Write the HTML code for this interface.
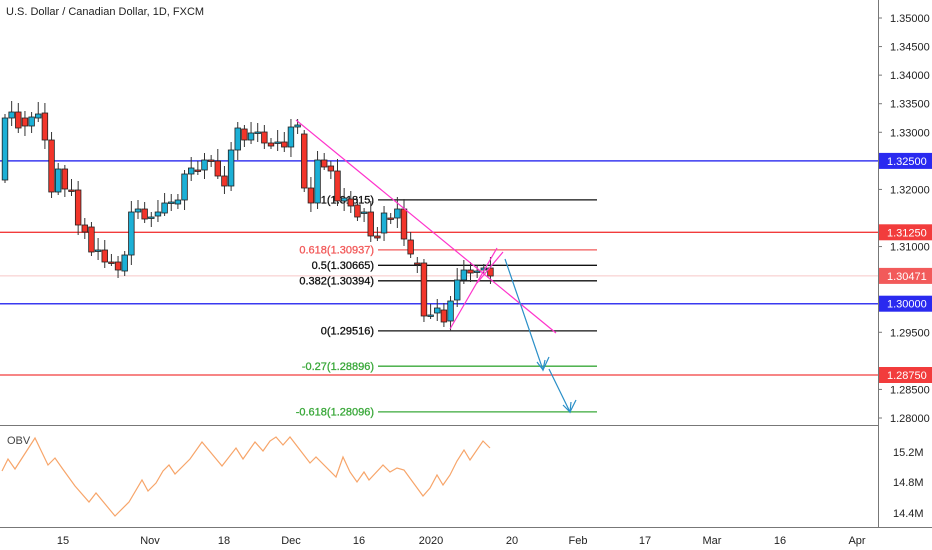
<!DOCTYPE html>
<html><head><meta charset="utf-8"><style>
html,body{margin:0;padding:0;background:#fff;}
svg{display:block;font-family:"Liberation Sans",sans-serif;}
</style></head><body>
<svg id="s" width="932" height="550" viewBox="0 0 932 550" xmlns="http://www.w3.org/2000/svg">
<rect width="932" height="550" fill="#fff"/>
<line x1="0" x2="878" y1="160.9" y2="160.9" stroke="#3a3af0" stroke-width="1.5"/>
<line x1="0" x2="878" y1="303.7" y2="303.7" stroke="#3a3af0" stroke-width="1.5"/>
<line x1="0" x2="878" y1="232.3" y2="232.3" stroke="#f23c3c" stroke-width="1.3"/>
<line x1="0" x2="878" y1="375" y2="375" stroke="#f23c3c" stroke-width="1.3"/>
<line x1="0" x2="878" y1="275.9" y2="275.9" stroke="#f7c6c6" stroke-width="1"/>
<g stroke-width="1.3">
<line x1="378" x2="597" y1="199.9" y2="199.9" stroke="#111"/>
<line x1="378" x2="597" y1="249.9" y2="249.9" stroke="#f25a5a"/>
<line x1="378" x2="597" y1="265.3" y2="265.3" stroke="#111"/>
<line x1="378" x2="597" y1="280.8" y2="280.8" stroke="#111"/>
<line x1="378" x2="597" y1="330.9" y2="330.9" stroke="#111"/>
<line x1="378" x2="597" y1="366.2" y2="366.2" stroke="#3aa83a"/>
<line x1="378" x2="597" y1="411.9" y2="411.9" stroke="#3aa83a"/>
</g>
<g font-size="11" text-anchor="end" stroke-width="0.3">
<text x="374" y="203.5" fill="#111" stroke="#111">1(1.31815)</text>
<text x="374" y="253.5" fill="#f25a5a" stroke="#f25a5a">0.618(1.30937)</text>
<text x="374" y="269" fill="#111" stroke="#111">0.5(1.30665)</text>
<text x="374" y="284.5" fill="#111" stroke="#111">0.382(1.30394)</text>
<text x="374" y="334.5" fill="#111" stroke="#111">0(1.29516)</text>
<text x="374" y="370" fill="#3aa83a" stroke="#3aa83a">-0.27(1.28896)</text>
<text x="374" y="415.5" fill="#3aa83a" stroke="#3aa83a">-0.618(1.28096)</text>
</g>
<g id="candles"></g>
<line x1="296" y1="120" x2="556" y2="333" stroke="#ff33cc" stroke-width="1.2"/>
<line x1="450" y1="329" x2="497" y2="248" stroke="#ff33cc" stroke-width="1.2"/>
<line x1="477" y1="283" x2="503" y2="252" stroke="#ff33cc" stroke-width="1.2"/>
<polyline points="505,259 543,370 549,357" fill="none" stroke="#2a8fc8" stroke-width="1.2"/>
<polyline points="537,362 543,370 545,360" fill="none" stroke="#2a8fc8" stroke-width="1.2"/>
<polyline points="549,369 570,412 576,400" fill="none" stroke="#2a8fc8" stroke-width="1.2"/>
<polyline points="563,405 570,412 571,402" fill="none" stroke="#2a8fc8" stroke-width="1.2"/>
<line x1="0" x2="878" y1="425.5" y2="425.5" stroke="#777" stroke-width="1"/>
<line x1="878.5" x2="878.5" y1="0" y2="527" stroke="#777"/>
<line x1="0" x2="932" y1="527.5" y2="527.5" stroke="#777"/>
<text x="6" y="15" font-size="11" fill="#222">U.S. Dollar / Canadian Dollar, 1D, FXCM</text>
<text x="7" y="444" font-size="11" fill="#444">OBV</text>
<polyline fill="none" stroke="#f7a56a" stroke-width="1.2" points="2,471 8,459 15,469 35,438 48,465 55,458 62,468 75,486 89,502 96,493 115,516 129,502 142,480 148,491 156,483 163,471 169,465 175,474 190,459 202,442 222,466 236,448 243,459 255,442 263,451 270,441 276,437 283,445 290,437 310,463 316,457 336,477 343,457 350,472 357,482 364,472 369,480 383,465 390,472 397,468 404,470 423,496 430,488 437,475 443,485 450,475 457,461 464,450 470,460 483,441 490,448"/>
<g id="axis" font-size="11" fill="#222"></g>
</svg>
<script>
var NS="http://www.w3.org/2000/svg",s=document.getElementById('s');
function el(t,a,p){var e=document.createElementNS(NS,t);for(var k in a)e.setAttribute(k,a[k]);(p||s).appendChild(e);return e;}
var C=[[180,118],[118,112],[112,128],[118,126],[126,117],[118,114],[113,140],[140,192],[192,169],[169,189],[190,191],[190,225],[225,232],[227,252],[251,250],[250,262],[262,263],[262,270],[271,255],[255,212],[212,209],[209,219],[218,217],[216,212],[213,203],[203,202],[204,200],[200,174],[174,168],[170,171],[170,160],[160,161],[161,176],[176,186],[186,150],[150,128],[129,140],[140,133],[133,132],[132,143],[143,146],[143,142],[142,147],[147,127],[127,125],[134,188],[188,203],[203,160],[160,167],[166,171],[171,201],[201,198],[199,206],[205,217],[213,212],[212,236],[236,238],[233,213],[218,219],[218,209],[209,239],[240,254],[263,264],[263,316],[316,315],[313,308],[310,322],[321,301],[300,280],[280,270],[270,273],[272,271],[270,268],[268,276]];
var g=document.getElementById('candles');
C.forEach(function(c,i){var x=5+6.65*i,o=c[0],cl=c[1],hi=Math.min(o,cl)-4-(i*7%9),lo=Math.max(o,cl)+3+(i*5%8);
el('line',{x1:x,x2:x,y1:hi,y2:lo,stroke:'#333','stroke-width':1},g);
var top=Math.min(o,cl),h=Math.max(1.5,Math.abs(o-cl));
el('rect',{x:x-2.8,y:top,width:5.6,height:h,fill:cl<o?'#1cb0d6':'#f2352a',stroke:'#222','stroke-width':0.8},g);});
var a=document.getElementById('axis');
for(var i=0;i<=14;i++){var p=1.35-0.005*i,y=18+i*28.571;
if([5,7,10,12].indexOf(i)>=0)continue;
el('text',{x:890,y:y+4},a).textContent=p.toFixed(5);el('line',{x1:878,x2:882,y1:y,y2:y,stroke:'#777'},a);}
function box(y,t,c){el('rect',{x:879,y:y-8,width:53,height:16,fill:c},a);var e=el('text',{x:887,y:y+4,fill:'#fff'},a);e.textContent=t;}
box(160.9,'1.32500','#2a2af0');box(232.3,'1.31250','#f23c3c');box(275.9,'1.30471','#f25a5a');box(303.7,'1.30000','#2a2af0');box(375,'1.28750','#f23c3c');
[['15.2M',452],['14.8M',482],['14.4M',513]].forEach(function(v){el('text',{x:893,y:v[1]+4},a).textContent=v[0];});
[['15',63],['Nov',150],['18',224],['Dec',291],['16',359],['2020',431],['20',512],['Feb',578],['17',645],['Mar',712],['16',780],['Apr',857]].forEach(function(v){var t=el('text',{x:v[1],y:544,'text-anchor':'middle'},a);t.textContent=v[0];});
</script>
</body></html>
